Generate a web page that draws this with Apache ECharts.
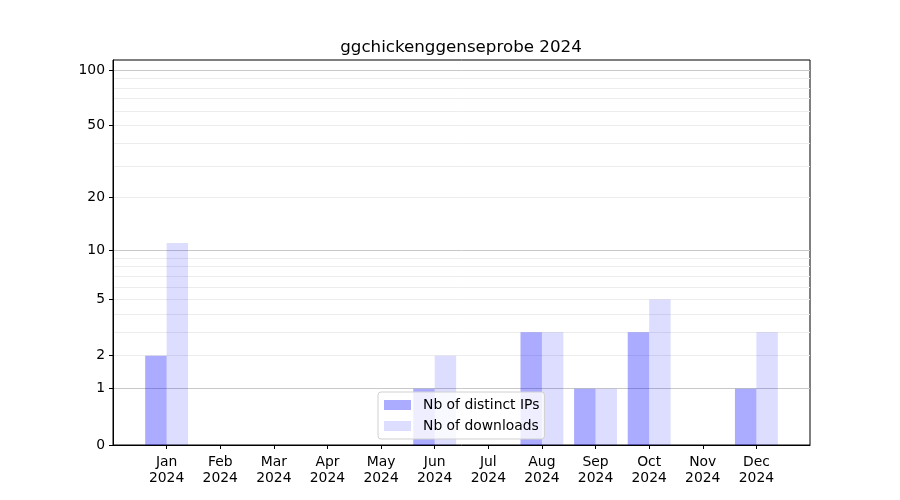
<!DOCTYPE html>
<html>
<head>
<meta charset="utf-8">
<script src="https://cdn.jsdelivr.net/npm/echarts@6/dist/echarts.min.js"></script>
<style>html,body{margin:0;padding:0;background:#fff}#c{width:900px;height:500px}</style>
</head>
<body>
<div id="c"></div>
<script>
const months = ['Jan\n2024','Feb\n2024','Mar\n2024','Apr\n2024','May\n2024','Jun\n2024','Jul\n2024','Aug\n2024','Sep\n2024','Oct\n2024','Nov\n2024','Dec\n2024'];
const distinctIPs = [2,0,0,0,0,1,0,3,1,3,0,1];
const downloads = [11,0,0,0,0,2,0,3,1,5,0,3];
const yTickLabels = [0,1,2,5,10,20,50,100];
const yMajorGrid = [1,10,100];
const yMinorGrid = [2,3,4,5,6,7,8,9,20,30,40,50,60,70,80,90];
const yTop = 113.3;

const tr = v => Math.log10(1 + v);
const inv = t => Math.round(Math.pow(10, t) - 1);
const cats = [''].concat(months, ['']);
const pad = arr => [null].concat(arr.map(tr), [null]);
const font = 'DejaVu Sans';
const yMax = tr(yTop);

const baseY = {
  type: 'value', min: 0, max: yMax, position: 'left',
  axisLine: {show: false}, axisLabel: {show: false}, axisTick: {show: false},
  splitLine: {show: false}
};

const chart = echarts.init(document.getElementById('c'), null, {renderer: 'canvas'});
chart.setOption({
  animation: false,
  backgroundColor: '#fff',
  title: {
    text: 'ggchickenggenseprobe 2024', left: 456, top: 34, textAlign: 'center',
    textStyle: {fontFamily: font, fontSize: 16.7, fontWeight: 'normal', color: '#000'}
  },
  grid: {left: 113, right: 90, top: 60, bottom: 55, show: true, borderColor: '#000', borderWidth: 1, backgroundColor: 'transparent'},
  legend: {
    orient: 'vertical', left: 378, top: 392, itemWidth: 27, itemHeight: 10, itemGap: 7,
    icon: 'rect',
    padding: [6, 5, 6, 6],
    backgroundColor: 'rgba(255,255,255,0.8)', borderColor: '#d0d0d0', borderWidth: 1, borderRadius: 3,
    textStyle: {fontFamily: font, fontSize: 13.9, color: '#000', padding: [0, 0, 0, 7]},
    data: ['Nb of distinct IPs', 'Nb of downloads']
  },
  xAxis: {
    type: 'category', data: cats, boundaryGap: false,
    axisLine: {lineStyle: {color: '#000', width: 1}},
    axisTick: {length: 4, lineStyle: {color: '#000'}, interval: (i, v) => v !== ''},
    axisLabel: {interval: 0, color: '#000', fontFamily: font, fontSize: 13.9, lineHeight: 16, margin: 9},
    splitLine: {show: false}
  },
  yAxis: [
    Object.assign({}, baseY, {
      axisLine: {show: true, lineStyle: {color: '#000'}},
      axisTick: {show: true, length: 4, lineStyle: {color: '#000'}, customValues: yTickLabels.map(tr)},
      axisLabel: {show: true, color: '#000', fontFamily: font, fontSize: 13.9, margin: 8,
        customValues: yTickLabels.map(tr), formatter: v => String(inv(v))}
    }),
    Object.assign({}, baseY, {
      axisTick: {show: false, customValues: yMajorGrid.map(tr)},
      splitLine: {show: true, lineStyle: {color: '#c8c8c8', width: 1}}
    }),
    Object.assign({}, baseY, {
      axisTick: {show: false, customValues: yMinorGrid.map(tr)},
      splitLine: {show: true, lineStyle: {color: '#ececec', width: 1}}
    })
  ],
  series: [
    {name: 'Nb of distinct IPs', type: 'bar', data: pad(distinctIPs), barWidth: '40%', barGap: '0%',
     itemStyle: {color: 'rgba(0,0,255,0.33)'}, yAxisIndex: 0},
    {name: 'Nb of downloads', type: 'bar', data: pad(downloads), barWidth: '40%', barGap: '0%',
     itemStyle: {color: 'rgba(0,0,255,0.135)'}, yAxisIndex: 0}
  ]
});
</script>
</body>
</html>
